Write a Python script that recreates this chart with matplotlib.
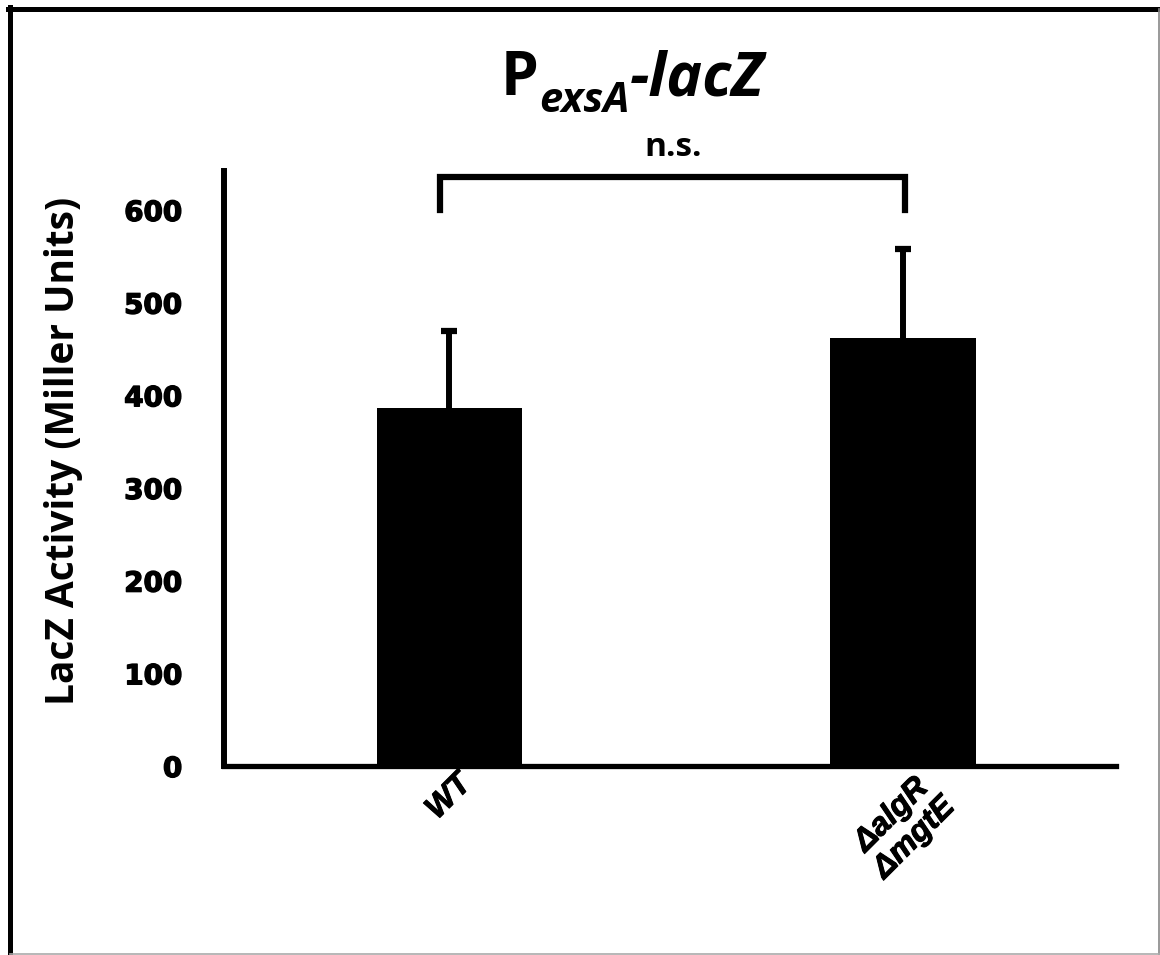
import numpy as np
import matplotlib
matplotlib.use("Agg")
import matplotlib.pyplot as plt
import matplotlib.patheffects as pe
from matplotlib.lines import Line2D
from matplotlib.font_manager import FontProperties, findfont

# data
strains = ["WT", "ΔalgR\nΔmgtE"]
activity = [386, 462]
activity_err = [83, 96]
y_ticks = [0, 100, 200, 300, 400, 500, 600]
sig_label = "n.s."

W, H = 1160, 955
fig = plt.figure(figsize=(W / 100, H / 100), dpi=100)
ax = fig.add_axes([224 / W, 1 - 766 / H, (1116 - 224) / W, (766 - 171) / H])

pos = np.arange(len(strains))
tops = np.array(activity) + np.array(activity_err)
ax.bar(pos, activity, width=0.32, color="black", zorder=2)
ax.vlines(pos, activity, tops, color="black", lw=4.3, zorder=3)
ax.plot(pos, tops, ls="none", marker="_", ms=11, mew=4.5, color="black",
        zorder=3)

ax.set_xlim(-0.496, 1.469)
ax.set_ylim(0, 642)

for s in ["top", "right"]:
    ax.spines[s].set_visible(False)
ax.spines["left"].set_linewidth(4.3)
ax.spines["bottom"].set_linewidth(3.8)

heavy = [pe.withStroke(linewidth=1.0, foreground="black")]

ax.set_yticks(y_ticks)
ax.set_yticklabels([str(t) for t in y_ticks], fontfamily="DejaVu Sans",
                   fontweight="bold", fontsize=20, path_effects=heavy)
ax.tick_params(axis="y", length=0, pad=30)

# pick an Arial-like bold italic that is really installed
xfont = None
for fam in ["Liberation Sans", "Roboto", "Noto Sans", "DejaVu Sans"]:
    fp = FontProperties(family=fam, weight="bold", style="italic", size=23)
    path = findfont(fp).lower()
    if "bold" in path and ("italic" in path or "oblique" in path):
        xfont = fp
        break
if xfont is None:
    xfont = FontProperties(family="DejaVu Sans", weight="bold",
                           style="italic", size=23)

ax.set_xticks(pos)
ax.set_xticklabels(strains, rotation=45, ha="center", va="top",
                   fontproperties=xfont, linespacing=1.1,
                   path_effects=[pe.withStroke(linewidth=0.7,
                                               foreground="black")])
ax.tick_params(axis="x", length=0, pad=2)

ax.set_ylabel("LacZ Activity (Miller Units)", fontfamily="Open Sans",
              fontweight="bold", fontsize=28)
ax.yaxis.set_label_coords(-0.158, 0.53)

# significance bracket
x0, x1 = pos[0] - 0.02, pos[1] + 0.005
ax.plot([x0, x0, x1, x1], [600, 635, 635, 600], color="black", lw=4.5,
        solid_joinstyle="miter", clip_on=False, zorder=4)
ax.text((x0 + x1) / 2, 650, sig_label, ha="center", va="bottom",
        fontfamily="Open Sans", fontweight="bold", fontsize=24)

# title P_exsA-lacZ built from pieces
fig.canvas.draw()
renderer = fig.canvas.get_renderer()
base_y = 1 - 95 / H
sub_y = 1 - 112 / H
pieces = [
    ("P", base_y, 43.5, "normal"),
    ("exsA", sub_y, 30, "italic"),
    ("-lacZ", base_y, 43.5, "italic"),
]
texts = []
for s, y, size, style in pieces:
    t = fig.text(0, y, s, ha="left", va="baseline", fontfamily="Open Sans",
                 fontweight="bold", fontstyle=style, fontsize=size)
    texts.append(t)
widths = [t.get_window_extent(renderer).width for t in texts]
x = 632.5 - sum(widths) / 2
for t, w in zip(texts, widths):
    t.set_x(x / W)
    x += w

# frame around the figure
fig.add_artist(Line2D([8 / W, 1], [1 - 9 / H, 1 - 9 / H], color="black",
                      lw=3.6, transform=fig.transFigure))
fig.add_artist(Line2D([9.5 / W, 9.5 / W], [0, 1 - 7 / H], color="black",
                      lw=3.6, transform=fig.transFigure))
fig.add_artist(Line2D([1158.5 / W, 1158.5 / W], [0, 1 - 9 / H], color="#888888",
                      lw=1.2, transform=fig.transFigure))
fig.add_artist(Line2D([9.5 / W, 1], [1.5 / H, 1.5 / H], color="#aaaaaa",
                      lw=1.2, transform=fig.transFigure))

fig.savefig("out.png", dpi=100)
